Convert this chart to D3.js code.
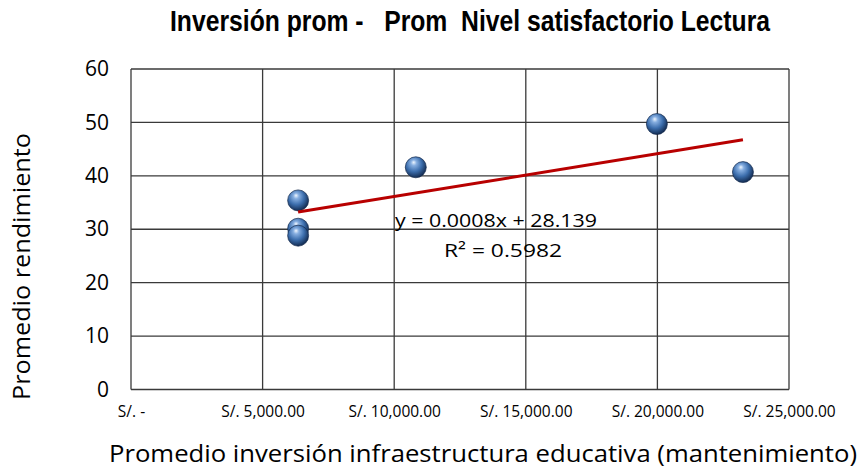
<!DOCTYPE html>
<html>
<head>
<meta charset="utf-8">
<script src="https://cdn.jsdelivr.net/npm/d3@7"></script>
<style>
  html, body { margin: 0; padding: 0; background: #fff; }
  svg { display: block; }
  text { white-space: pre; }
</style>
</head>
<body>
<div id="chart"></div>
<script>
// Average infrastructure investment (S/.) vs. average reading score
const investment = [6350, 6350, 6350, 10820, 19980, 23250];
const performance = [35.4, 30.1, 28.8, 41.6, 49.7, 40.7];
const xTicks = [0, 5000, 10000, 15000, 20000, 25000];
const xTickLabels = ["S/. -", "S/. 5,000.00", "S/. 10,000.00", "S/. 15,000.00", "S/. 20,000.00", "S/. 25,000.00"];
const yTicks = [0, 10, 20, 30, 40, 50, 60];
const trendSlope = 0.0008;
const trendIntercept = 28.139;
const trendR2 = 0.5982;

const W = 860, H = 472;
const plot = { left: 131, right: 789, top: 69, bottom: 389.5 };

const svg = d3.select("#chart").append("svg")
  .attr("width", W).attr("height", H);

const x = d3.scaleLinear().domain([0, 25000]).range([plot.left, plot.right]);
const y = d3.scaleLinear().domain([0, 60]).range([plot.bottom, plot.top]);

const defs = svg.append("defs");
const ball = defs.append("radialGradient").attr("id", "ball")
  .attr("cx", "42%").attr("cy", "38%").attr("r", "62%").attr("fx", "40%").attr("fy", "26%");
ball.append("stop").attr("offset", "0%").attr("stop-color", "#eef6ff");
ball.append("stop").attr("offset", "22%").attr("stop-color", "#86aee0");
ball.append("stop").attr("offset", "60%").attr("stop-color", "#3c6ead");
ball.append("stop").attr("offset", "100%").attr("stop-color", "#132c52");

// Title: condensed bold, stretched vertically
svg.append("text")
  .attr("transform", "translate(170,31) scale(1,1.3)")
  .attr("font-family", "'Liberation Sans Narrow', 'Arial Narrow', 'Liberation Sans', sans-serif")
  .attr("font-weight", "bold")
  .attr("font-size", 22)
  .attr("textLength", 600).attr("lengthAdjust", "spacingAndGlyphs")
  .attr("fill", "#000")
  .text("Inversión prom -   Prom  Nivel satisfactorio Lectura");

// Gridlines
const grid = svg.append("g").attr("stroke", "#3a3a3a").attr("stroke-width", 1.3);
grid.selectAll("line.h").data(yTicks).join("line")
  .attr("x1", plot.left).attr("x2", plot.right)
  .attr("y1", d => y(d)).attr("y2", d => y(d));
grid.selectAll("line.v").data(xTicks).join("line")
  .attr("y1", plot.top).attr("y2", plot.bottom)
  .attr("x1", d => x(d)).attr("x2", d => x(d));

// Axes (labels only; lines come from the grid)
const yAxis = svg.append("g")
  .attr("transform", `translate(${plot.left},0)`)
  .call(d3.axisLeft(y).tickValues(yTicks).tickSize(0).tickPadding(22));
yAxis.select(".domain").remove();
yAxis.selectAll("text")
  .attr("font-family", "'Open Sans', sans-serif")
  .attr("font-size", 21).attr("fill", "#000");

const xAxis = svg.append("g")
  .attr("transform", `translate(0,${plot.bottom})`)
  .call(d3.axisBottom(x).tickValues(xTicks).tickSize(0).tickPadding(16)
    .tickFormat((d, i) => xTickLabels[i]));
xAxis.select(".domain").remove();
xAxis.selectAll("text")
  .attr("font-family", "'Open Sans', sans-serif")
  .attr("font-size", 15.5).attr("fill", "#000");

// Axis titles
svg.append("text")
  .attr("transform", "translate(30,266.5) rotate(-90)")
  .attr("text-anchor", "middle")
  .attr("font-family", "'Open Sans', sans-serif")
  .attr("font-size", 24)
  .attr("textLength", 267).attr("lengthAdjust", "spacingAndGlyphs")
  .attr("fill", "#000")
  .text("Promedio rendimiento");

svg.append("text")
  .attr("x", 109).attr("y", 462)
  .attr("font-family", "'Open Sans', sans-serif")
  .attr("font-size", 24)
  .attr("textLength", 748).attr("lengthAdjust", "spacingAndGlyphs")
  .attr("fill", "#000")
  .text("Promedio inversión infraestructura educativa (mantenimiento)");

// Points
svg.append("g").selectAll("circle").data(investment).join("circle")
  .attr("cx", d => x(d))
  .attr("cy", (d, i) => y(performance[i]))
  .attr("r", 10.5)
  .attr("fill", "url(#ball)")
  .attr("stroke", "#142a4c").attr("stroke-width", 0.7);

// Linear trendline over the data range
const xMin = d3.min(investment), xMax = d3.max(investment);
svg.append("line")
  .attr("x1", x(xMin)).attr("y1", y(trendSlope * xMin + trendIntercept))
  .attr("x2", x(xMax)).attr("y2", y(trendSlope * xMax + trendIntercept))
  .attr("stroke", "#b80000").attr("stroke-width", 3);

// Trendline equation
const eq = svg.append("g")
  .attr("font-family", "'Open Sans', sans-serif")
  .attr("font-size", 19).attr("fill", "#000");
eq.append("text").attr("x", 395).attr("y", 227)
  .attr("textLength", 202).attr("lengthAdjust", "spacingAndGlyphs")
  .text(`y = ${trendSlope}x + ${trendIntercept}`);
eq.append("text").attr("x", 444).attr("y", 257)
  .attr("textLength", 118).attr("lengthAdjust", "spacingAndGlyphs")
  .text(`R\u00B2 = ${trendR2}`);
</script>
</body>
</html>
